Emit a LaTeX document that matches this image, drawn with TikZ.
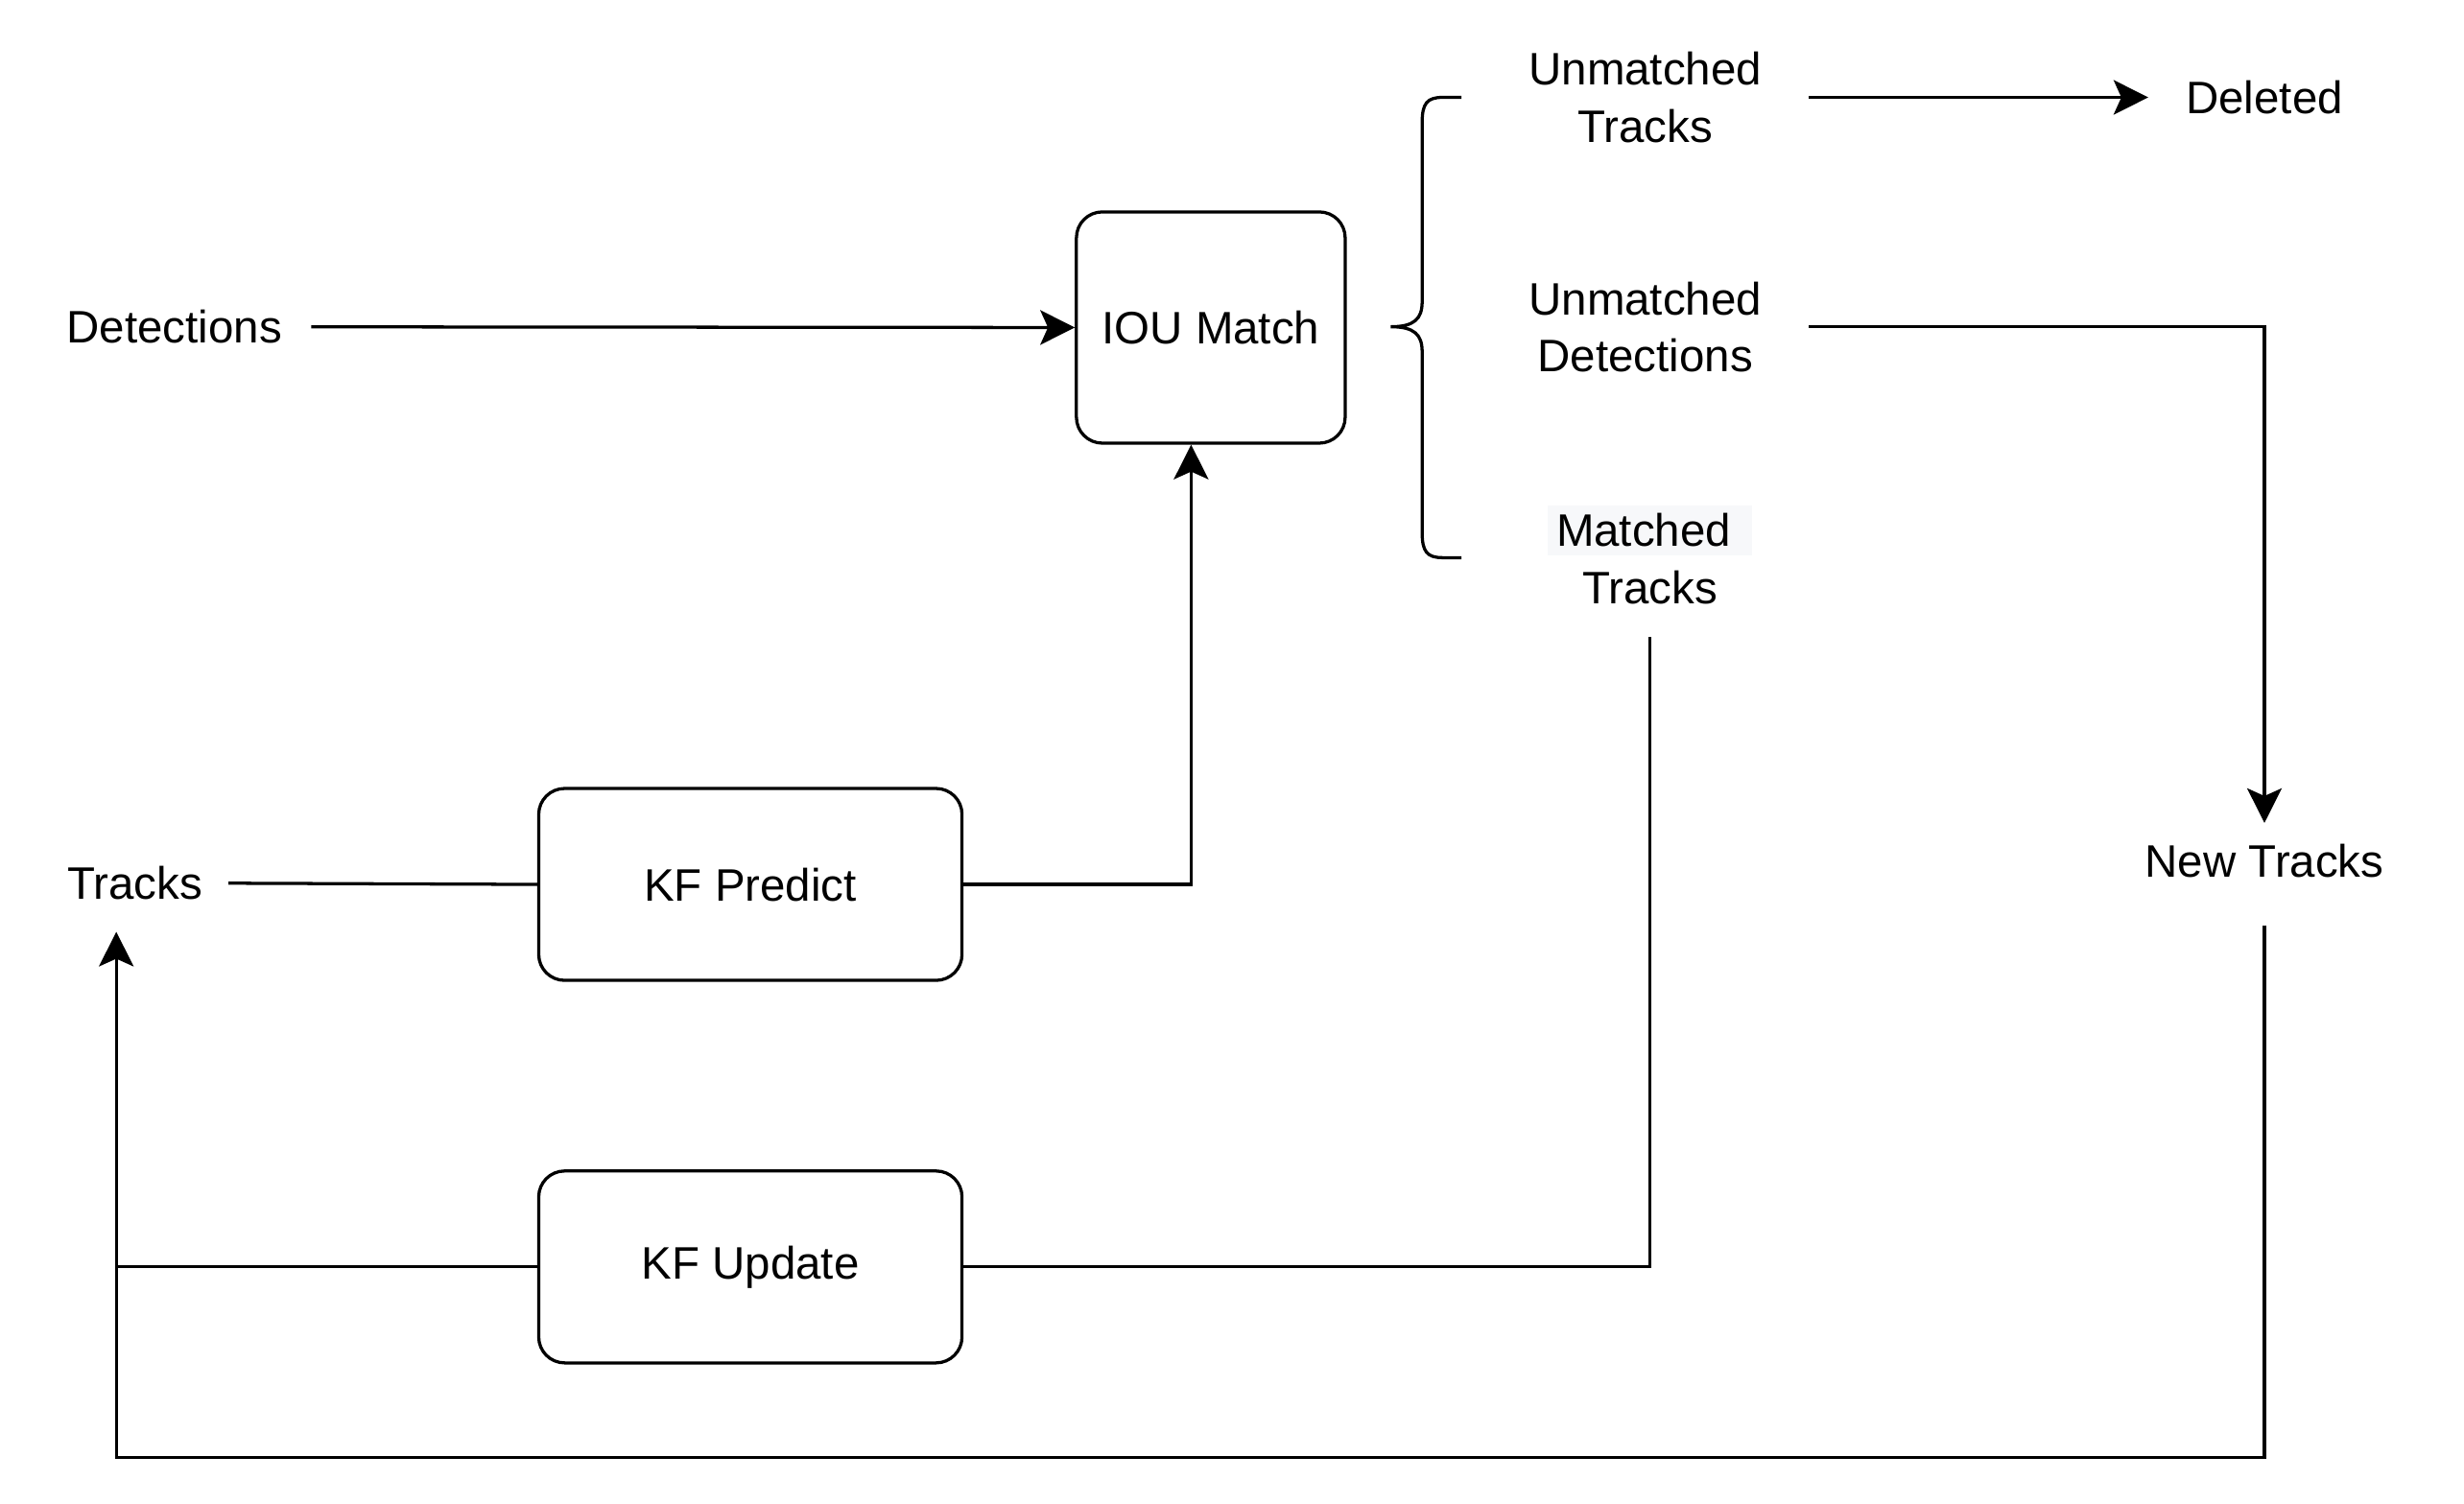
\documentclass[tikz,border=0pt]{standalone}
\usepackage{fontspec}
\setmainfont{Liberation Sans}
\usepackage{xcolor}
\usetikzlibrary{arrows.meta}
\definecolor{matchbg}{HTML}{F7F8FA}

\begin{document}
\begin{tikzpicture}[x=0.016378cm, y=-0.016378cm, line width=0.93pt,
        font=\fontsize{13.5}{16.8}\selectfont,
        >={Stealth[length=0.36cm, width=0.36cm, inset=0.08cm]},
        box/.style={draw, rounded corners=0.27cm, align=center},
        lbl/.style={inner sep=0pt, align=center}]
        \useasboundingbox (0,0) rectangle (1568,957.4);
        \node[lbl] (det) at (111,208) {Detections};
        \node[box, minimum width=2.80cm, minimum height=2.41cm] (iou) at (770.5,208.5) {IOU Match};
        \node[lbl] (ut) at (1047,62) {Unmatched\\Tracks};
        \node[lbl] (ud) at (1047,208) {Unmatched\\Detections};
        \node[lbl] (mt) at (1050,353)
            {\setlength{\fboxsep}{2.5pt}\colorbox{matchbg}{Matched\ }\\Tracks};
        \node[lbl] (del) at (1441,62) {Deleted};
        \node[lbl] (nt) at (1441,548) {New Tracks};
        \node[lbl] (trk) at (86,562) {Tracks};
        \node[box, minimum width=4.41cm, minimum height=2.0cm] (kfp) at (477.5,563) {KF Predict};
        \node[box, minimum width=4.41cm, minimum height=2.0cm] (kfu) at (477.5,806.5) {KF Update};
        \coordinate (c) at (74,928);
        \draw (930,62) -- (918,62) .. controls (908,62) and (905,66) .. (905,78)
            -- (905,192) .. controls (905,203) and (900,208) .. (885,208)
            .. controls (900,208) and (905,213) .. (905,224)
            -- (905,339) .. controls (905,351) and (908,355) .. (918,355) -- (930,355);
        \draw[->, shorten <=0.287cm] (det) -- (iou.west);
        \draw[->, shorten <=0.475cm, shorten >=0.377cm] (ut.east) -- (del.west);
        \draw[->, shorten <=0.475cm, shorten >=0.205cm] (ud.east) -| (nt.north);
        \draw[shorten <=0.328cm] (mt.south) |- (kfu.east);
        \draw[shorten <=0.254cm] (trk) -- (kfp.west);
        \draw[->] (kfp.east) -| ([xshift=-0.205cm]iou.south);
        \draw (kfu.west) -- (kfu.west -| c);
        \draw[->, shorten <=0.483cm, shorten >=0.32cm] (nt.south) |- (c) -- (c |- trk.south);
    \end{tikzpicture}
\end{document}
